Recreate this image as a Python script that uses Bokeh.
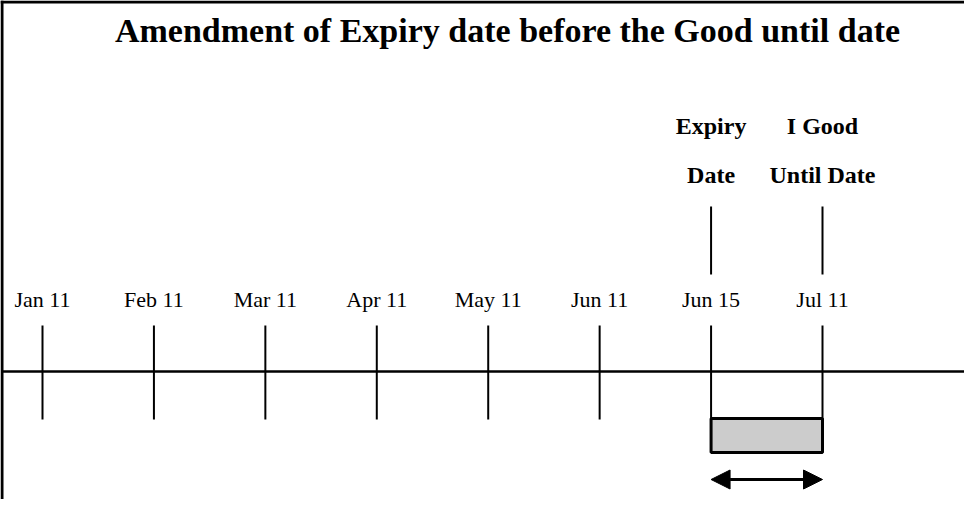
from bokeh.plotting import figure
from bokeh.models import Range1d, Arrow, NormalHead
from bokeh.embed import file_html
from bokeh.resources import INLINE
from bokeh.core.properties import value

# ---- data ----
title_text = "Amendment of Expiry date before the Good until date"
tick_labels = ["Jan 11", "Feb 11", "Mar 11", "Apr 11", "May 11", "Jun 11", "Jun 15", "Jul 11"]
expiry_date = "Jun 15"
good_until_date = "Jul 11"
expiry_label = ["Expiry", "Date"]
good_until_label = ["I Good", "Until Date"]

# ---- layout (pixels) ----
W, H = 964, 499
first_px, last_px = 42, 822
SERIF = value("Liberation Serif")

n = len(tick_labels)
pos = {lab: i for i, lab in enumerate(tick_labels)}
idx = [pos[l] for l in tick_labels]
s = (last_px - first_px) / (n - 1)
x0 = -first_px / s
x1 = x0 + W / s


def px(v):
    return x0 + v / s


p = figure(width=W, height=H, x_range=Range1d(x0, x1), y_range=Range1d(H, 0),
           output_backend="svg", toolbar_location=None, min_border=0,
           x_axis_location=None, y_axis_location=None)
p.grid.visible = False
p.outline_line_color = None
p.background_fill_color = "white"
p.border_fill_color = "white"

# frame borders (left and top)
p.segment(x0=[px(1.5)], y0=[0], x1=[px(1.5)], y1=[H], line_color="black", line_width=3)
p.segment(x0=[px(0)], y0=[1.5], x1=[px(W)], y1=[1.5], line_color="black", line_width=3)

# title
p.text(x=[px(507)], y=[30], text=[title_text], text_font=SERIF, text_font_style="bold",
       text_font_size="34px", text_align="center", text_baseline="middle", text_color="black")

# main timeline
p.segment(x0=[px(2)], y0=[371], x1=[px(W)], y1=[371], line_color="black", line_width=2.5)

# ticks
p.segment(x0=idx, y0=[325] * n, x1=idx, y1=[419] * n, line_color="black", line_width=2)

# tick labels
p.text(x=idx, y=[299] * n, text=tick_labels, text_font=SERIF, text_font_size="22px",
       text_align="center", text_baseline="middle", text_color="black")

# marker lines above
mk = [pos[expiry_date], pos[good_until_date]]
p.segment(x0=mk, y0=[206, 206], x1=mk, y1=[274, 274], line_color="black", line_width=2)

# marker labels
for xi, lab in zip(mk, [expiry_label, good_until_label]):
    p.text(x=[xi, xi], y=[125, 174], text=lab, text_font=SERIF, text_font_style="bold",
           text_font_size="24px", text_align="center", text_baseline="middle", text_color="black")

# box between dates
p.quad(left=[pos[expiry_date]], right=[pos[good_until_date]], top=[418], bottom=[452],
       fill_color="#cccccc", line_color="black", line_width=3)

# double arrow
p.add_layout(Arrow(x_start=pos[expiry_date], y_start=479, x_end=pos[good_until_date], y_end=479,
                   line_color="black", line_width=3,
                   start=NormalHead(size=19, fill_color="black", line_color="black"),
                   end=NormalHead(size=19, fill_color="black", line_color="black")))

open("out.html", "w").write(file_html(p, INLINE))
